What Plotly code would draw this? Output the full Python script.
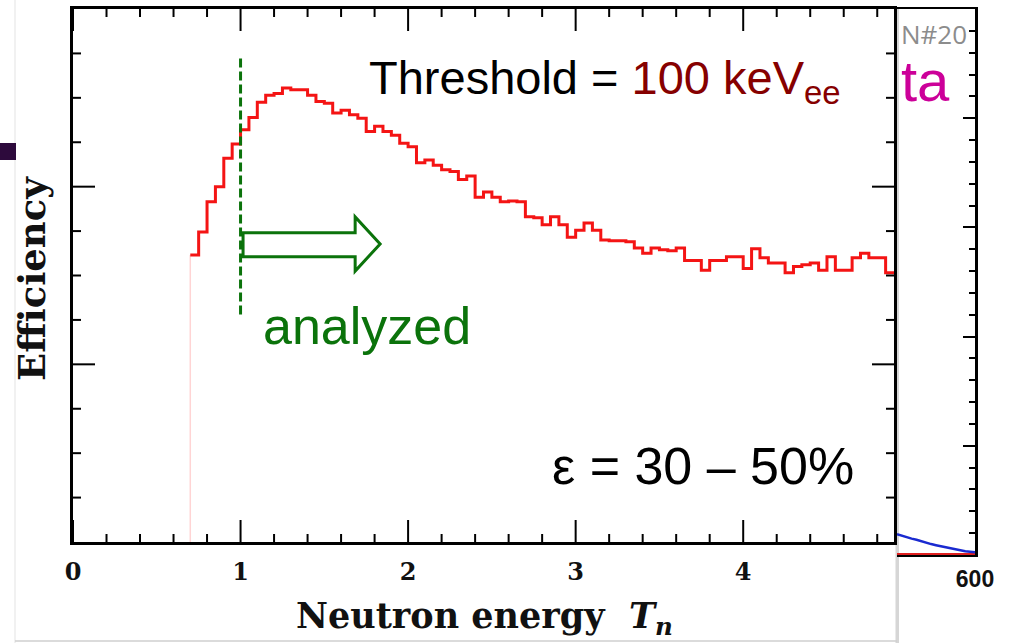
import numpy as np
import plotly.graph_objects as go

# ---------------- data ----------------
bin_start = 0.70
bin_width = 0.05
efficiency = [
    0.323, 0.349, 0.383, 0.400, 0.432, 0.448, 0.464, 0.478, 0.495, 0.503,
    0.505, 0.511, 0.509, 0.509, 0.503, 0.496, 0.494, 0.483, 0.486, 0.481,
    0.477, 0.462, 0.468, 0.462, 0.458, 0.449, 0.445, 0.427, 0.430, 0.424,
    0.419, 0.417, 0.408, 0.412, 0.388, 0.394, 0.388, 0.383, 0.384, 0.383,
    0.366, 0.365, 0.357, 0.366, 0.357, 0.343, 0.351, 0.359, 0.351, 0.340,
    0.339, 0.339, 0.338, 0.331, 0.325, 0.331, 0.329, 0.328, 0.331, 0.317,
    0.317, 0.306, 0.317, 0.317, 0.321, 0.321, 0.308, 0.330, 0.320, 0.314,
    0.314, 0.303, 0.310, 0.312, 0.314, 0.306, 0.321, 0.306, 0.306, 0.320,
    0.325, 0.320, 0.320, 0.303,
]
x_tick_vals = [0, 1, 2, 3, 4]
x_tick_text = ["0", "1", "2", "3", "4"]
x_minor_vals = [0.2, 0.4, 0.6, 0.8, 1.2, 1.4, 1.6, 1.8, 2.2, 2.4, 2.6, 2.8,
                3.2, 3.4, 3.6, 3.8, 4.2, 4.4, 4.6, 4.8]
y_major_vals = [0.2, 0.4]
y_minor_vals = [0.05, 0.10, 0.15, 0.25, 0.30, 0.35, 0.45, 0.50, 0.55]
x_range = [0, 4.9]
y_range = [0, 0.6]
analysis_cut = 1.0          # neutron energy above which events are analyzed

# partially visible neighbouring panel (right edge of the slide)
side_x = [520, 525, 530, 535, 540, 545, 550, 555, 560, 565, 570, 575, 580, 585, 590, 595, 600]
side_blue = [3.8, 3.5, 3.3, 3.0, 2.8, 2.5, 2.3, 2.0, 1.8, 1.6, 1.4, 1.2, 1.0, 0.9, 0.7, 0.6, 0.5]
side_red = [0.2] * len(side_x)

# ---------------- geometry helpers ----------------
W, H = 1009, 643
ML, MR, MT, MB = 0, 0, 9, 88
PW, PH = W - ML - MR, H - MT - MB


def PX(x):
    return (x - ML) / PW


def PY(y):
    return (H - MB - y) / PH


edges = np.round(bin_start + bin_width * np.arange(len(efficiency) + 1), 3)
step_y = efficiency + [efficiency[-1]]

fig = go.Figure()

# faint leading edge of histogram
fig.add_trace(go.Scatter(x=[edges[0], edges[0]], y=[0, efficiency[0]], mode="lines",
                         line=dict(color="#ffd4d4", width=1.5), hoverinfo="skip",
                         showlegend=False))
fig.add_trace(go.Scatter(x=list(edges), y=step_y, mode="lines", line_shape="hv",
                         line=dict(color="#f41414", width=3), showlegend=False))

# side panel curves
fig.add_trace(go.Scatter(x=side_x, y=side_red, mode="lines", xaxis="x2", yaxis="y2",
                         line=dict(color="#e02020", width=2), showlegend=False))
fig.add_trace(go.Scatter(x=side_x, y=side_blue, mode="lines", xaxis="x2", yaxis="y2",
                         line=dict(color="#1a2ad0", width=2.5), showlegend=False))

serif = "DejaVu Serif"
sans = "Liberation Sans"

fig.update_layout(
    width=W, height=H,
    margin=dict(l=ML, r=MR, t=MT, b=MB),
    paper_bgcolor="white", plot_bgcolor="white",
    xaxis=dict(
        domain=[PX(73), PX(894)], range=x_range, showgrid=False, zeroline=False,
        showline=True, linecolor="black", linewidth=3, mirror=True,
        ticks="", tickvals=x_tick_vals, ticktext=x_tick_text,
        tickfont=dict(family=serif, size=24, color="#111", weight="bold"),
        ticklabelstandoff=6, automargin=False,
    ),
    yaxis=dict(
        domain=[PY(542), PY(9)], range=y_range, showgrid=False, zeroline=False,
        showline=True, linecolor="black", linewidth=3, mirror=True,
        ticks="", showticklabels=False, automargin=False,
    ),
    xaxis2=dict(
        domain=[PX(897), PX(975)], range=[520, 600], anchor="y2",
        showline=True, linecolor="black", linewidth=2, mirror=True,
        ticks="", tickvals=[600], ticktext=["600"],
        tickfont=dict(family=sans, size=23, color="#111", weight="bold"),
        ticklabelstandoff=2, showgrid=False, zeroline=False, automargin=False,
    ),
    yaxis2=dict(
        domain=[0, 1], range=[0, 100], anchor="x2", side="right",
        showline=True, linecolor="black", linewidth=2.5, showgrid=False, zeroline=False,
        ticks="inside", ticklen=12, tickwidth=2, tickcolor="black", dtick=20,
        showticklabels=False, automargin=False,
        minor=dict(ticks="inside", dtick=4, ticklen=6, tickwidth=2, tickcolor="black"),
    ),
    showlegend=False,
)

green = "#0b730b"
tick_line = dict(color="black", width=2)

shapes = []
# inward ticks on all four sides of the main frame (pixel lengths, data positions)
for vals, length in ((x_tick_vals, 22), (x_minor_vals, 8)):
    for v in vals:
        for anchor, sign in ((y_range[0], 1), (y_range[1], -1)):
            shapes.append(dict(type="line", xref="x", yref="y", x0=v, x1=v,
                               ysizemode="pixel", yanchor=anchor, y0=0, y1=sign * length,
                               line=tick_line))
for vals, length in ((y_major_vals, 22), (y_minor_vals, 8)):
    for v in vals:
        for anchor, sign in ((x_range[0], 1), (x_range[1], -1)):
            shapes.append(dict(type="line", xref="x", yref="y", y0=v, y1=v,
                               xsizemode="pixel", xanchor=anchor, x0=0, x1=sign * length,
                               line=tick_line))

shapes += [
    # dashed analysis threshold
    dict(type="line", xref="x", yref="y", x0=analysis_cut, x1=analysis_cut, y0=0.256, y1=0.546,
         line=dict(color=green, width=3, dash="9px,4px")),
    # hollow arrow
    dict(type="path", xref="x", yref="y",
         path="M 1.015,0.348 L 1.684,0.348 L 1.684,0.366 L 1.833,0.3355 L 1.684,0.305 "
              "L 1.684,0.321 L 1.015,0.321 Z",
         line=dict(color=green, width=3), fillcolor="white"),
    # slide decorations
    dict(type="rect", xref="paper", yref="paper", x0=PX(0), x1=PX(16), y0=PY(160), y1=PY(143),
         fillcolor="#2d0a3c", line=dict(width=0)),
    dict(type="rect", xref="paper", yref="paper", x0=PX(895.5), x1=PX(899), y0=PY(643), y1=PY(9),
         fillcolor="#d6d6d6", line=dict(width=0), layer="below"),
    dict(type="line", xref="paper", yref="paper", x0=PX(15), x1=PX(15), y0=PY(643), y1=PY(0),
         line=dict(color="#ececec", width=1.5), layer="below"),
    dict(type="line", xref="paper", yref="paper", x0=PX(15), x1=PX(897), y0=PY(641), y1=PY(641),
         line=dict(color="#cfcfcf", width=1.5), layer="below"),
]

annotations = [
    dict(text="Threshold = <span style='color:#860000'>100 keV<sub>ee</sub></span>",
         x=PX(367), y=PY(81), xanchor="left", yanchor="middle",
         font=dict(family=sans, size=47, color="black")),
    dict(text="ta", x=PX(899), y=PY(81), xanchor="left", yanchor="middle",
         font=dict(family=sans, size=58, color="#cc0099")),
    dict(text="N#20", x=PX(899), y=PY(34), xanchor="left", yanchor="middle",
         font=dict(family="Open Sans", size=26, color="#8c8c8c")),
    dict(text="analyzed", x=PX(261), y=PY(326), xanchor="left", yanchor="middle",
         font=dict(family=sans, size=52, color=green)),
    dict(text="\u03b5 = 30 \u2013 50%", x=PX(550), y=PY(466), xanchor="left", yanchor="middle",
         font=dict(family=sans, size=52, color="black")),
    dict(text="Neutron energy  <i>T</i><sub><i>n</i></sub>", x=PX(484), y=PY(618),
         xanchor="center", yanchor="middle",
         font=dict(family=serif, size=35, color="#111", weight="bold")),
    dict(text="Efficiency", x=PX(32), y=PY(279), xanchor="center", yanchor="middle",
         textangle=-90, font=dict(family=serif, size=37, color="#111", weight="bold")),
]
for a in annotations:
    a.update(xref="paper", yref="paper", showarrow=False)

fig.update_layout(shapes=shapes, annotations=annotations)

fig.write_html("out.html")
